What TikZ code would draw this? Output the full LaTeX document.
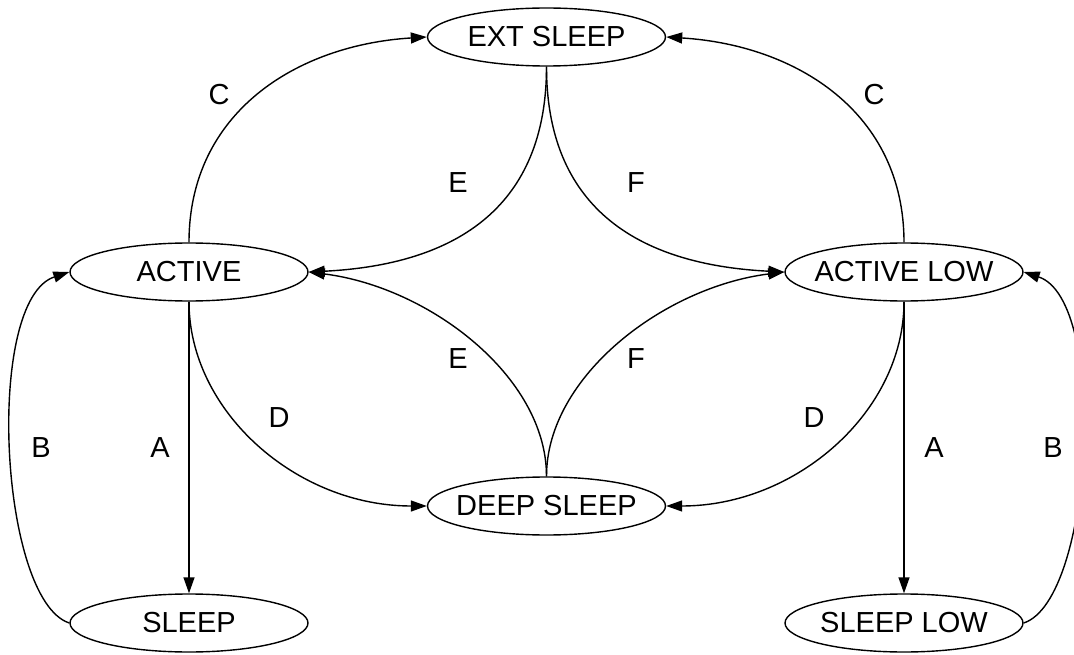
\documentclass[tikz,border=0pt]{standalone}
\usepackage{fontspec}
\setmainfont{Liberation Sans}
\usetikzlibrary{shapes.geometric,arrows.meta}
\begin{document}
\begin{tikzpicture}[x=1pt,y=-1pt, font=\fontsize{29}{34}\selectfont,
  state/.style={ellipse, draw, line width=1.4pt, minimum width=238pt, minimum height=58pt, inner xsep=-40pt, inner ysep=0pt},
  edge/.style={line width=1.4pt, -{Triangle[length=16pt,width=11pt]}},
  lab/.style={inner sep=0pt}]
\fill[white] (0,0) rectangle (1074,655);
\clip (0,0) rectangle (1074,655);
\node[state] (ext) at (546.5,37) {EXT SLEEP};
\node[state] (active) at (189,272) {ACTIVE};
\node[state] (activelow) at (904,272) {ACTIVE LOW};
\node[state] (deep) at (546.5,506) {DEEP SLEEP};
\node[state] (sleep) at (189,623) {SLEEP};
\node[state] (sleeplow) at (904,623) {SLEEP LOW};
% C
\draw[edge] (active.north) .. controls +(0,-130) and +(-130,8) .. (ext.west);
\draw[edge] (activelow.north) .. controls +(0,-130) and +(130,8) .. (ext.east);
% E, F upper
\draw[edge] (ext.south) .. controls +(0,130) and +(160,-8) .. (active.east);
\draw[edge] (ext.south) .. controls +(0,130) and +(-160,-8) .. (activelow.west);
% E, F lower
\draw[edge] (deep.north) .. controls +(0,-100) and +(120,15) .. (active.east);
\draw[edge] (deep.north) .. controls +(0,-100) and +(-120,15) .. (activelow.west);
% D
\draw[edge] (active.south) .. controls +(0,110) and +(-130,0) .. (deep.west);
\draw[edge] (activelow.south) .. controls +(0,110) and +(130,0) .. (deep.east);
% A
\draw[edge] (active.south) -- (sleep.north);
\draw[edge] (activelow.south) -- (sleeplow.north);
% B
\draw[edge] (sleep.west) .. controls +(-70,-23) and +(-85,28) .. (active.west);
\draw[edge] (sleeplow.east) .. controls +(70,-23) and +(85,28) .. (activelow.east);
% labels
\node[lab] (c1) at (219,95) {C};
\node[lab] (c2) at (874,95) {C};
\node[lab] (e1) at (458,183) {E};
\node[lab] (f1) at (636,183) {F};
\node[lab] (e2) at (458,359) {E};
\node[lab] (f2) at (636,359) {F};
\node[lab] (d1) at (279,418) {D};
\node[lab] (d2) at (814,418) {D};
\node[lab] (a1) at (160,448) {A};
\node[lab] (a2) at (934,448) {A};
\node[lab] (b1) at (41,448) {B};
\node[lab] (b2) at (1053,448) {B};
\end{tikzpicture}
\end{document}
